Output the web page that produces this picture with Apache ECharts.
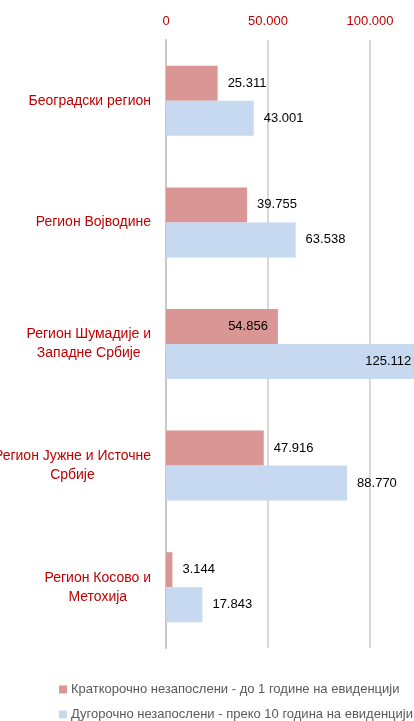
<!DOCTYPE html>
<html>
<head>
<meta charset="utf-8">
<script src="https://cdn.jsdelivr.net/npm/echarts@6/dist/echarts.min.js"></script>
<style>
  html, body { margin: 0; padding: 0; background: #fff; }
  #container { width: 414px; height: 721px; }
</style>
</head>
<body>
<div id="container"></div>
<script>
    // региони (горе -> доле)
    var regions = ["Београдски регион", "Регион Војводине", "Регион Шумадије и\nЗападне Србије", "Регион Јужне и Источне\nСрбије", "Регион Косово и\nМетохија"];
    var seriesNames = ["Краткорочно незапослени - до 1 године на евиденцији", "Дугорочно незапослени - преко 10 година на евиденцији"];
    var shortTerm = [25311, 39755, 54856, 47916, 3144];
    var longTerm = [43001, 63538, 125112, 88770, 17843];
    // ознаке унутар траке
    var insideLabels = [2];

    var FONT = '"Liberation Sans", Arial, sans-serif';

    function fmt(v)
    {
        return String(v).replace(/\B(?=(\d{3})+(?!\d))/g, '.');
    }
    function build(values)
    {
        var out = [];
        for (var i = 0; i < values.length; i++)
        {
            if (insideLabels.indexOf(i) != -1)
                out.push({ value: values[i], label: { position: 'insideRight' } });
            else
                out.push(values[i]);
        }
        return out;
    }
    // свака линија центрирана у блоку
    function catLabel(v)
    {
        return v.split('\n').map(function (s) { return '{c|' + s + '}'; }).join('\n');
    }

    var myChart = echarts.init(document.getElementById('container'));
    myChart.setOption({
        animation: false,
        color: ['#d99694', '#c6d9f1'],
        textStyle: { fontFamily: FONT },
        grid: { left: 166, top: 40, height: 608, width: 306, containLabel: false, outerBoundsMode: 'none' },
        legend: {
            orient: 'vertical',
            left: 54,
            top: 678,
            height: 50,
            itemWidth: 8,
            itemHeight: 8,
            itemGap: 12,
            icon: 'rect',
            textStyle: { color: '#595959', fontSize: 13, fontFamily: FONT, padding: [0, 0, 0, -1] },
            data: seriesNames
        },
        xAxis: {
            type: 'value',
            position: 'top',
            min: 0,
            max: 150000,
            interval: 50000,
            axisLine: { show: false },
            axisTick: { show: false },
            axisLabel: { color: '#c00000', fontSize: 13, fontFamily: FONT, margin: 12, formatter: fmt },
            splitLine: { lineStyle: { color: '#d9d9d9', width: 2 } }
        },
        yAxis: {
            type: 'category',
            inverse: true,
            data: regions,
            axisLine: { show: true, lineStyle: { color: '#c8c8c8', width: 2 } },
            axisTick: { show: false },
            axisLabel: {
                color: '#c00000',
                fontSize: 14,
                fontFamily: FONT,
                margin: 15,
                align: 'right',
                formatter: catLabel,
                rich: { c: { align: 'center', color: '#c00000', fontSize: 14, fontFamily: FONT, lineHeight: 19 } }
            }
        },
        series: [
            {
                name: seriesNames[0],
                type: 'bar',
                barWidth: 35,
                barGap: '0%',
                data: build(shortTerm),
                label: { show: true, position: 'right', distance: 10, color: '#000', fontSize: 13, fontFamily: FONT, formatter: function (p) { return fmt(p.value); } }
            },
            {
                name: seriesNames[1],
                type: 'bar',
                barWidth: 35,
                barGap: '0%',
                data: build(longTerm),
                label: { show: true, position: 'right', distance: 10, color: '#000', fontSize: 13, fontFamily: FONT, formatter: function (p) { return fmt(p.value); } }
            }
        ]
    });
</script>
</body>
</html>
